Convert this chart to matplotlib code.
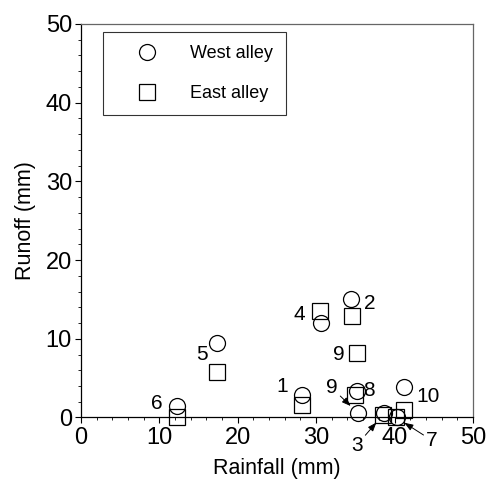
import matplotlib
matplotlib.use("Agg")
import matplotlib.pyplot as plt
from matplotlib.ticker import MultipleLocator

plt.rcParams['font.family'] = ['Liberation Sans', 'DejaVu Sans']

# event numbers 1..10
events = [1, 2, 3, 4, 5, 6, 7, 8, 9, 10]

# West alley (circles)
west_rain = [28.2, 34.5, 38.6, 30.6, 17.3, 12.3, 40.3, 35.2, 35.3, 41.2]
west_runoff = [2.8, 15.0, 0.6, 12.0, 9.5, 1.4, 0.1, 3.4, 0.6, 3.9]

# East alley (squares)
east_rain = [28.2, 34.6, 38.5, 30.5, 17.3, 12.3, 40.2, 35.0, 35.2, 41.2]
east_runoff = [1.6, 12.9, 0.3, 13.5, 5.8, 0.1, 0.0, 2.9, 8.2, 1.0]

# label placement: event -> (series, dx px, dy px, arrow?)
label_style = {
    1: ('west', -20, 9, False),
    2: ('west', 18, -4, False),
    3: ('east', -26, -30, True),
    4: ('east', -21, -3, False),
    5: ('west', -15, -12, False),
    6: ('west', -21, 3, False),
    7: ('east', 36, -23, True),
    8: ('east', 14, 4, False),
    10: ('west', 24, -10, False),
}
# event 9 gets two labels: the east square and the west circle (with arrow)
label9 = [('east', -18, -2, False), ('west', -26, 25, True)]

fig = plt.figure(figsize=(4.89, 4.79), dpi=100)
ax = fig.add_axes([0.1656, 0.1284, 0.8015, 0.8215])

ms = 11.5
ax.plot(west_rain, west_runoff, 'o', ms=ms, mfc='none', mec='black', mew=0.9,
        label='West alley', clip_on=False, zorder=3)
ax.plot(east_rain, east_runoff, 's', ms=ms, mfc='none', mec='black', mew=0.9,
        label='East alley', clip_on=False, zorder=3)


def put_label(num, series, dx, dy, arrow):
    i = events.index(num)
    if series == 'west':
        xy = (west_rain[i], west_runoff[i])
    else:
        xy = (east_rain[i], east_runoff[i])
    props = None
    if arrow:
        props = dict(arrowstyle='-|>,head_length=0.35,head_width=0.13', color='black',
                     lw=0.7, shrinkA=0, shrinkB=7)
    ax.annotate(str(num), xy=xy, xytext=(dx, dy), textcoords='offset pixels',
                ha='center', va='center', fontsize=15, arrowprops=props,
                annotation_clip=False)


for num, (series, dx, dy, arrow) in label_style.items():
    put_label(num, series, dx, dy, arrow)
for series, dx, dy, arrow in label9:
    put_label(9, series, dx, dy, arrow)

ax.set_xlim(0, 50)
ax.set_ylim(0, 50)
ax.xaxis.set_major_locator(MultipleLocator(10))
ax.yaxis.set_major_locator(MultipleLocator(10))
ax.xaxis.set_minor_locator(MultipleLocator(2))
ax.yaxis.set_minor_locator(MultipleLocator(2))
ax.tick_params(which='major', direction='out', length=4.5, width=0.8, labelsize=17, pad=2)
ax.tick_params(which='minor', direction='out', length=2.2, width=0.6)

for side in ['left', 'bottom']:
    ax.spines[side].set_color('black')
    ax.spines[side].set_linewidth(0.9)
for side in ['top', 'right']:
    ax.spines[side].set_color('#666666')
    ax.spines[side].set_linewidth(0.9)

ax.set_xlabel('Rainfall (mm)', fontsize=15.5, labelpad=7)
ax.set_ylabel('Runoff (mm)', fontsize=15.5, labelpad=7)

leg = ax.legend(loc='upper left', bbox_to_anchor=(0.056, 0.98), borderaxespad=0,
                fontsize=13, frameon=True, fancybox=False, edgecolor='black',
                handlelength=3.4, handletextpad=0.7, labelspacing=1.3,
                borderpad=0.72, markerscale=1.0)
leg.get_frame().set_linewidth(0.8)

fig.savefig('out.png', dpi=100)
